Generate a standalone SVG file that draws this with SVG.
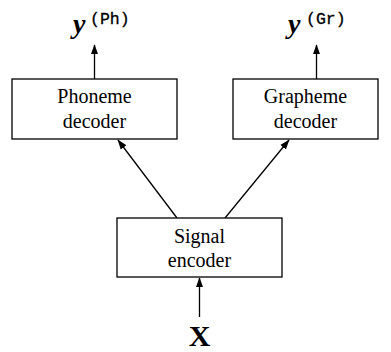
<svg xmlns="http://www.w3.org/2000/svg" width="391" height="352" viewBox="0 0 391 352">
<defs>
<marker id="ah" markerWidth="10" markerHeight="14" refX="13" refY="5" viewBox="0 0 14 10" orient="auto" markerUnits="userSpaceOnUse">
<path d="M0,0 L14,5 L0,10 z" fill="#000"/>
</marker>
<style>
.box{fill:#fff;stroke:#000;stroke-width:1.3}
.lbl{font-family:"Liberation Serif","DejaVu Serif",serif;font-size:20px;text-anchor:middle;fill:#000}
.conn{stroke:#000;stroke-width:1.3;fill:none;marker-end:url(#ah)}
.yv{font-family:"Liberation Serif","DejaVu Serif",serif;font-weight:bold;font-style:italic;font-size:28px;fill:#000}
.sup{font-family:"Liberation Mono","DejaVu Sans Mono",monospace;font-size:16.5px;fill:#000;stroke:#000;stroke-width:0.3}
.xv{font-family:"Liberation Serif","DejaVu Serif",serif;font-weight:bold;font-size:30px;text-anchor:middle;fill:#000}
</style>
</defs>
<g id="connectors">
<line class="conn" x1="94.5" y1="79" x2="94.5" y2="45"/>
<line class="conn" x1="316.5" y1="79" x2="316.5" y2="45"/>
<line class="conn" x1="177" y1="218" x2="118" y2="140"/>
<line class="conn" x1="225" y1="218" x2="289" y2="140"/>
<line class="conn" x1="199.5" y1="317" x2="199.5" y2="278"/>
</g>
<g id="phoneme-decoder">
<rect class="box" x="12" y="79" width="165" height="60"/>
<text class="lbl" x="94.5" y="103">Phoneme</text>
<text class="lbl" x="94.5" y="128">decoder</text>
</g>
<g id="grapheme-decoder">
<rect class="box" x="233" y="79" width="145" height="60"/>
<text class="lbl" x="305.5" y="103">Grapheme</text>
<text class="lbl" x="305.5" y="128">decoder</text>
</g>
<g id="signal-encoder">
<rect class="box" x="117" y="218" width="165" height="59"/>
<text class="lbl" x="199.5" y="243">Signal</text>
<text class="lbl" x="199.5" y="267">encoder</text>
</g>
<g id="y-ph">
<text class="yv" x="73" y="33">y</text>
<text class="sup" x="90" y="24">(Ph)</text>
</g>
<g id="y-gr">
<text class="yv" x="288" y="33">y</text>
<text class="sup" x="306" y="24">(Gr)</text>
</g>
<g id="x-input">
<text class="xv" x="199.5" y="346">X</text>
</g>
</svg>
